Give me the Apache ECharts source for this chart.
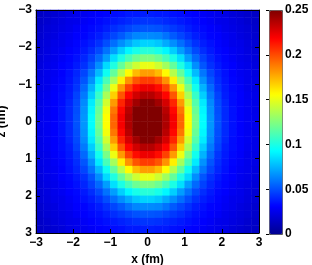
<!DOCTYPE html>
<html><head><meta charset="utf-8">
<script src="https://cdn.jsdelivr.net/npm/echarts@6/dist/echarts.min.js"></script>
<style>html,body{margin:0;padding:0;background:#fff}#c{width:312px;height:265px}</style>
</head><body><div id="c"></div>
<script>
// axis ticks
const xTicks = [-3, -2, -1, 0, 1, 2, 3];
const zTicks = [-3, -2, -1, 0, 1, 2, 3];
const colorbarTicks = [0, 0.05, 0.1, 0.15, 0.2, 0.25];
// cell centres (fm) of one quadrant (x >= 0, z >= 0); the map is mirror-symmetric in x and in z
const cellCentres = [0.1, 0.3, 0.5, 0.7, 0.9, 1.1, 1.3, 1.5, 1.7, 1.9, 2.1, 2.3, 2.5, 2.7, 2.9];
// density; rows: z = 0.1 .. 2.9, columns: x = 0.1 .. 2.9
const densityQuadrant = [
  [0.266,0.254,0.239,0.221,0.194,0.156,0.122,0.094,0.068,0.051,0.041,0.035,0.031,0.028,0.026],
  [0.259,0.250,0.236,0.217,0.190,0.153,0.119,0.092,0.067,0.050,0.041,0.035,0.031,0.028,0.025],
  [0.249,0.242,0.229,0.210,0.181,0.145,0.114,0.089,0.065,0.049,0.040,0.034,0.031,0.028,0.025],
  [0.237,0.230,0.218,0.198,0.168,0.135,0.107,0.082,0.061,0.047,0.038,0.034,0.031,0.027,0.025],
  [0.223,0.216,0.203,0.181,0.152,0.123,0.098,0.075,0.057,0.044,0.037,0.033,0.030,0.026,0.024],
  [0.204,0.198,0.183,0.160,0.134,0.111,0.089,0.067,0.052,0.042,0.036,0.032,0.029,0.026,0.024],
  [0.180,0.173,0.157,0.138,0.118,0.097,0.077,0.060,0.048,0.040,0.035,0.031,0.028,0.026,0.023],
  [0.151,0.144,0.133,0.118,0.101,0.085,0.066,0.052,0.043,0.037,0.033,0.031,0.027,0.025,0.022],
  [0.125,0.120,0.111,0.100,0.086,0.070,0.057,0.047,0.040,0.035,0.032,0.029,0.026,0.024,0.021],
  [0.103,0.099,0.092,0.082,0.070,0.059,0.049,0.042,0.037,0.033,0.031,0.028,0.026,0.023,0.020],
  [0.083,0.080,0.073,0.066,0.058,0.050,0.043,0.038,0.035,0.032,0.029,0.026,0.025,0.022,0.020],
  [0.065,0.064,0.059,0.053,0.048,0.043,0.038,0.035,0.032,0.031,0.028,0.026,0.023,0.021,0.018],
  [0.052,0.051,0.048,0.045,0.042,0.038,0.035,0.033,0.031,0.029,0.026,0.024,0.022,0.020,0.017],
  [0.044,0.043,0.041,0.039,0.037,0.035,0.033,0.031,0.029,0.026,0.025,0.023,0.021,0.018,0.016],
  [0.038,0.037,0.037,0.035,0.034,0.032,0.031,0.029,0.027,0.026,0.024,0.021,0.019,0.017,0.015]
];
const colorMax = 0.25;
const jet = ['#00008f','#0000ff','#0080ff','#00ffff','#80ff80','#ffff00','#ff8000','#ff0000','#800000'];

// full axis of cell centres from -2.9 to 2.9 (mirror of the quadrant)
const n = cellCentres.length;
const fullCentres = cellCentres.slice().reverse().map(v => -v).concat(cellCentres);
const qIndex = i => (i < n ? n - 1 - i : i - n);
const cells = [];
for (let i = 0; i < 2 * n; i++) {
  for (let j = 0; j < 2 * n; j++) {
    const v = densityQuadrant[qIndex(j)][qIndex(i)];
    cells.push([i, j, Math.min(v, colorMax)]);
  }
}

const FONT = '"Liberation Sans", Arial, Helvetica, sans-serif';
const lab = {color: '#000', fontFamily: FONT, fontWeight: 'bold', fontSize: 12};
const minus = v => (v < 0 ? '\u2212' + (-v) : String(v));
const G = {left: 36, top: 10, width: 223, height: 223, containLabel: false, outerBoundsMode: 'none'};
const line = {show: true, onZero: false, lineStyle: {color: '#000', width: 1}};
const tick = {show: true, inside: true, length: 4, lineStyle: {color: '#000', width: 1}};

const chart = echarts.init(document.getElementById('c'), null, {renderer: 'canvas'});
chart.setOption({
  animation: false,
  backgroundColor: '#fff',
  grid: [
    Object.assign({show: false}, G),
    {left: 269, top: 10, width: 13, height: 224, show: false, containLabel: false, outerBoundsMode: 'none'}
  ],
  xAxis: [
    {type: 'category', gridIndex: 0, data: fullCentres, show: false},
    {type: 'value', gridIndex: 0, min: xTicks[0], max: xTicks[xTicks.length - 1], interval: 1,
      position: 'bottom', z: 10, axisLine: line, axisTick: tick, splitLine: {show: false},
      axisLabel: Object.assign({margin: 4, formatter: minus}, lab),
      name: 'x (fm)', nameLocation: 'middle', nameGap: 17, nameTextStyle: lab},
    {type: 'value', gridIndex: 0, min: xTicks[0], max: xTicks[xTicks.length - 1], interval: 1,
      position: 'top', z: 10, axisLine: line, axisTick: tick, splitLine: {show: false},
      axisLabel: {show: false}},
    {type: 'value', gridIndex: 1, min: 0, max: 1, show: false}
  ],
  yAxis: [
    {type: 'category', gridIndex: 0, data: fullCentres, inverse: true, show: false},
    {type: 'value', gridIndex: 0, min: zTicks[0], max: zTicks[zTicks.length - 1], interval: 1, inverse: true,
      position: 'left', z: 10, axisLine: line, axisTick: tick, splitLine: {show: false},
      axisLabel: Object.assign({margin: 4, formatter: minus}, lab),
      name: 'z (fm)', nameLocation: 'middle', nameGap: 18, nameTextStyle: lab},
    {type: 'value', gridIndex: 0, min: zTicks[0], max: zTicks[zTicks.length - 1], interval: 1, inverse: true,
      position: 'right', z: 10, axisLine: line, axisTick: tick, splitLine: {show: false},
      axisLabel: {show: false}},
    {type: 'value', gridIndex: 1, min: colorbarTicks[0], max: colorbarTicks[colorbarTicks.length - 1],
      interval: 0.05, position: 'right', z: 10,
      axisLine: {show: false}, splitLine: {show: false},
      axisTick: {show: true, inside: true, length: 3, lineStyle: {color: '#000'}},
      axisLabel: Object.assign({margin: 3}, lab)}
  ],
  visualMap: {
    type: 'continuous', min: 0, max: colorMax, seriesIndex: 0, calculable: false,
    inRange: {color: jet}, left: 269, top: 10, itemWidth: 13, itemHeight: 224,
    padding: 0, text: null, showLabel: false, hoverLink: false,
    borderColor: '#555', borderWidth: 1
  },
  series: [{
    type: 'heatmap', xAxisIndex: 0, yAxisIndex: 0, data: cells, progressive: 0,
    emphasis: {disabled: true}
  }]
});
</script>
</body></html>
